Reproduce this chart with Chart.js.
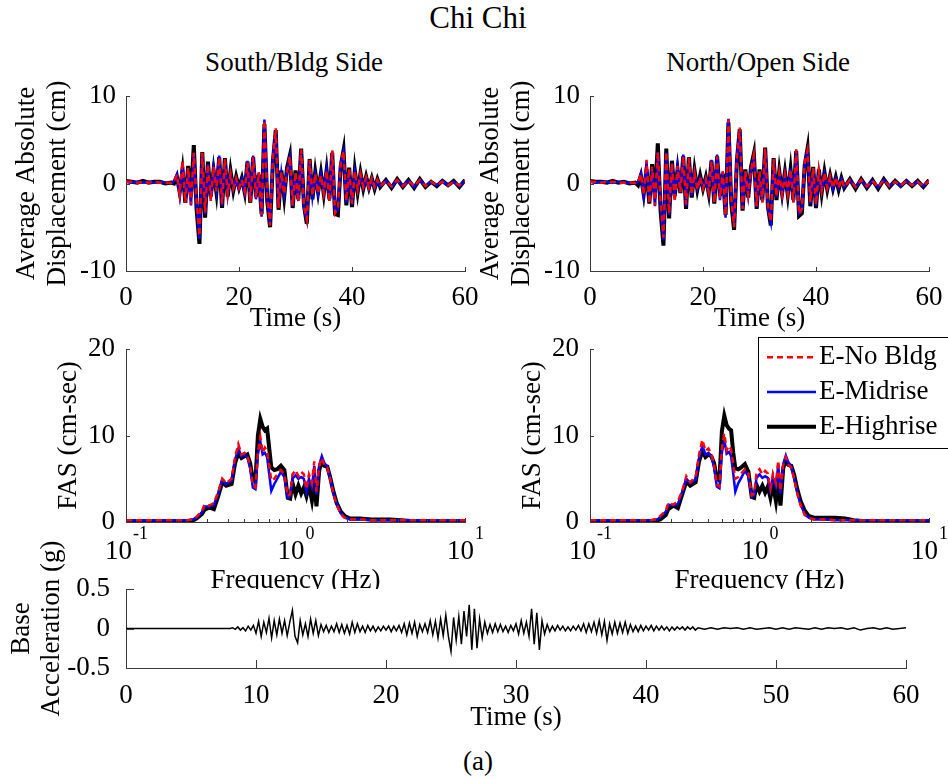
<!DOCTYPE html>
<html>
<head>
<meta charset="utf-8">
<title>Chi Chi</title>
<script src="https://cdn.jsdelivr.net/npm/chart.js@4.4.1/dist/chart.umd.min.js"></script>
<style>
  body { margin: 0; background: #fff; }
  #page { position: relative; width: 948px; height: 780px; overflow: hidden; background: #fff;
          font-family: 'Liberation Serif', 'Times New Roman', serif; color: #000; }
  #page canvas { position: absolute; }
  .lbl { position: absolute; transform: translate(-50%, -50%); white-space: nowrap; line-height: 1; font-size: 27px; }
</style>
</head>
<body>
<div id="page">
  <div class="lbl" style="left:478px; top:17px; font-size:31px;">Chi Chi</div>
  <div class="lbl" style="left:294px; top:62px;">South/Bldg Side</div>
  <div class="lbl" style="left:758px; top:62px;">North/Open Side</div>

  <canvas id="dispSouth" width="490" height="270" style="left:0; top:70px;"></canvas>
  <canvas id="dispNorth" width="474" height="270" style="left:474px; top:70px;"></canvas>
  <canvas id="fasSouth" width="490" height="274" style="left:0; top:326px;"></canvas>
  <canvas id="fasNorth" width="474" height="274" style="left:474px; top:326px;"></canvas>
  <canvas id="baseAccel" width="948" height="210" style="left:0; top:530px; z-index:2;"></canvas>

  <div class="lbl" style="left:478px; top:761px;">(a)</div>
</div>

<script>
// ---- data ----

// displacement time histories (s, cm)
const dispTime = [0, 1, 2, 3, 4, 5, 6, 7,
  8, 8.5, 9, 9.5, 10, 10.5, 11, 11.5, 12, 12.5,
  13, 13.5, 14, 14.5, 15, 15.5, 16, 16.5, 17, 17.5,
  18, 18.5, 19, 19.5, 20, 20.5, 21, 21.5, 22, 22.5,
  23, 23.5, 24, 24.5, 25, 25.5, 26, 26.5, 27, 27.5,
  28, 28.5, 29, 29.5, 30, 30.5, 31, 31.5, 32, 32.5,
  33, 33.5, 34, 34.5, 35, 35.5, 36, 36.5, 37, 37.5,
  38, 38.5, 39, 39.5, 40, 40.5, 41, 41.5, 42, 42.5,
  43, 43.5, 44, 44.5, 45,
  46, 47, 48, 49, 50, 51, 52, 53, 54, 55, 56, 57, 58, 59, 60];

const southNoBldg = [0.2, 0.2, 0.1, 0.2, 0.1, 0.2, 0.1, 0.1,
  0.1, 0.2, 1.0, -1.2, 2.6, -2.2, 1.8, -2.4, 3.5, -2.0,
  -6.0, 3.5, -3.3, 2.2, -2.0, 1.9, -0.9, 3.0, -2.3, 2.8,
  -1.2, 1.1, -0.6, 0.6, -0.5, 0.4, -0.9, 2.4, -2.1, 3.0,
  -1.6, 1.3, -3.6, 7.2, -1.6, -4.8, 2.8, 6.3, -2.8, 1.3,
  -1.2, 1.4, 3.1, -2.5, 1.3, -2.1, 3.9, -2.6, -4.1, 2.7,
  -1.4, 1.1, -1.1, 0.9, -1.1, 1.5, -2.1, 3.8, -3.4, -2.8,
  2.3, 3.7, -2.0, 1.7, -2.3, 1.4, -0.7, 1.1, -0.4, 0.7,
  -0.5, 0.6, -0.4, 0.4, -0.3,
  0.3, -0.3, 0.4, -0.3, 0.3, -0.3, 0.4, -0.3, 0.2, -0.2, 0.2, -0.2, 0.2, -0.2, 0.3];
const southMidrise = [0.2, 0.1, 0.2, 0.1, 0.2, 0.1, 0.2, 0.1,
  0.0, 0.3, 1.0, -1.3, 2.4, -2.0, 1.5, -2.5, 3.5, -2.5,
  -6.3, 3.4, -3.5, 2.2, -1.8, 1.8, -0.8, 3.2, -2.5, 2.7,
  -1.3, 1.2, -0.7, 0.5, -0.6, 0.5, -1.0, 2.6, -2.0, 3.2,
  -1.8, 1.2, -3.8, 7.3, -1.5, -4.6, 3.0, 6.0, -2.6, 1.2,
  -1.3, 1.5, 3.0, -2.6, 1.2, -2.0, 3.8, -2.8, -4.2, 2.5,
  -1.5, 1.0, -1.2, 1.0, -1.0, 1.6, -2.0, 3.7, -3.3, -3.0,
  2.2, 3.6, -2.2, 1.6, -2.4, 1.3, -0.8, 1.0, -0.5, 0.6,
  -0.6, 0.5, -0.5, 0.4, -0.3,
  0.3, -0.4, 0.4, -0.3, 0.3, -0.4, 0.4, -0.3, 0.2, -0.2, 0.3, -0.2, 0.2, -0.3, 0.3];
const southHighrise = [0.3, 0.2, 0.1, 0.3, 0.1, 0.2, 0.2, 0.0,
  0.1, 0.0, 0.8, -1.0, 1.5, -2.2, 2.0, -1.5, 4.4, -3.0,
  -6.9, 3.6, -3.9, 2.5, -1.5, 1.5, -1.0, 3.0, -2.8, 2.9,
  -1.5, 1.4, -0.8, 0.8, -0.5, 0.6, -1.0, 2.5, -2.2, 3.0,
  -1.5, 1.0, -3.5, 6.8, -2.0, -5.0, 2.5, 6.1, -3.0, 1.5,
  -1.5, 1.8, 3.2, -2.8, 1.5, -1.8, 4.0, -2.5, -4.6, 2.8,
  -1.8, 1.3, -1.0, 1.2, -1.2, 1.5, -1.8, 3.5, -3.5, -3.6,
  2.0, 3.8, -2.5, 1.8, -2.7, 1.5, -1.0, 1.2, -0.6, 0.8,
  -0.5, 0.6, -0.6, 0.5, -0.4,
  0.4, -0.5, 0.5, -0.4, 0.4, -0.5, 0.5, -0.4, 0.2, -0.3, 0.3, -0.2, 0.3, -0.4, 0.4];

const northNoBldg = [0.2, 0.2, 0.1, 0.2, 0.2, 0.1, 0.1, 0.1,
  0.1, 0.1, 1.1, -1.3, 2.7, -2.3, 1.9, -2.5, 3.6, -2.1,
  -6.2, 3.6, -3.4, 2.3, -2.1, 2.0, -1.0, 3.1, -2.4, 2.9,
  -1.3, 1.2, -0.7, 0.7, -0.6, 0.5, -1.0, 2.5, -2.2, 3.1,
  -1.7, 1.4, -3.7, 7.3, -1.7, -5.0, 2.9, 6.4, -2.9, 1.4,
  -1.3, 1.5, 3.2, -2.6, 1.4, -2.2, 4.0, -2.7, -4.3, 2.8,
  -1.5, 1.2, -1.2, 1.0, -1.2, 1.6, -2.2, 3.9, -3.5, -2.9,
  2.4, 3.8, -2.1, 1.8, -2.4, 1.5, -0.8, 1.2, -0.5, 0.8,
  -0.5, 0.7, -0.5, 0.5, -0.4,
  0.4, -0.4, 0.4, -0.3, 0.3, -0.4, 0.4, -0.3, 0.2, -0.2, 0.3, -0.2, 0.2, -0.3, 0.3];
const northMidrise = [0.2, 0.1, 0.2, 0.2, 0.1, 0.2, 0.1, 0.1,
  0.0, 0.2, 1.1, -1.4, 2.5, -2.1, 1.6, -2.6, 3.6, -2.6,
  -6.5, 3.5, -3.6, 2.3, -1.7, 1.9, -0.9, 3.3, -2.6, 2.8,
  -1.4, 1.3, -0.6, 0.6, -0.5, 0.6, -1.1, 2.7, -2.1, 3.3,
  -1.9, 1.3, -3.9, 7.4, -1.6, -4.8, 3.1, 6.1, -2.7, 1.3,
  -1.4, 1.6, 3.1, -2.7, 1.3, -2.1, 3.9, -2.9, -4.4, 2.6,
  -1.6, 1.1, -1.3, 1.1, -1.1, 1.7, -2.1, 3.8, -3.4, -3.1,
  2.3, 3.7, -2.3, 1.7, -2.5, 1.4, -0.9, 1.1, -0.6, 0.7,
  -0.6, 0.6, -0.5, 0.5, -0.4,
  0.4, -0.4, 0.4, -0.4, 0.3, -0.4, 0.4, -0.3, 0.2, -0.3, 0.3, -0.2, 0.2, -0.3, 0.3];
const northHighrise = [0.3, 0.2, 0.2, 0.1, 0.3, 0.1, 0.2, 0.0,
  0.1, -0.2, 0.9, -1.2, 1.6, -2.3, 2.2, -1.6, 4.6, -3.2,
  -7.1, 4.0, -4.0, 2.6, -1.4, 1.6, -1.1, 3.1, -2.9, 3.0,
  -1.6, 1.5, -0.7, 0.9, -0.6, 0.7, -1.1, 2.6, -2.3, 3.1,
  -1.4, 1.1, -3.6, 7.0, -2.2, -5.3, 2.6, 6.2, -3.1, 1.6,
  -1.6, 1.9, 3.4, -2.9, 1.6, -1.9, 4.1, -2.7, -4.8, 2.9,
  -1.9, 1.4, -1.1, 1.3, -1.3, 1.6, -1.9, 3.7, -3.7, -3.4,
  2.1, 4.0, -2.6, 1.9, -2.8, 1.6, -1.1, 1.3, -0.7, 0.9,
  -0.6, 0.7, -0.7, 0.6, -0.5,
  0.5, -0.6, 0.5, -0.5, 0.4, -0.6, 0.5, -0.4, 0.3, -0.3, 0.3, -0.3, 0.3, -0.4, 0.4];

// Fourier amplitude spectra (Hz, cm-sec)
const fasFreq = [0.1, 0.15, 0.2, 0.23, 0.25,
  0.26, 0.28, 0.29, 0.31, 0.33,
  0.35, 0.37, 0.39, 0.42, 0.44,
  0.46, 0.48, 0.5, 0.52, 0.54,
  0.56, 0.58, 0.6, 0.62, 0.64,
  0.66, 0.68, 0.7, 0.72, 0.75,
  0.78, 0.82, 0.86, 0.9, 0.93,
  0.96, 1.0, 1.04, 1.08, 1.12,
  1.16, 1.2, 1.25, 1.29, 1.33,
  1.38, 1.43, 1.48, 1.54, 1.6,
  1.67, 1.75, 1.85, 1.95, 2.1,
  2.4, 2.8, 3.2, 3.6, 4.2,
  5, 7, 10];

const fasSouthNoBldg = [0.2, 0.2, 0.2, 0.2, 0.3,
  0.6, 1.2, 2.0, 1.9, 2.2,
  3.5, 5.0, 4.5, 5.0, 7.5,
  9.0, 7.8, 8.0, 7.6, 6.5,
  4.2, 4.0, 8.0, 9.8, 8.0,
  8.6, 8.2, 6.5, 4.8, 5.0,
  5.5, 6.0, 5.5, 3.0, 3.2,
  5.5, 6.0, 5.3, 5.8, 5.5,
  3.8, 5.5, 4.5, 7.0, 3.5,
  6.5, 7.4, 6.5, 6.3, 5.0,
  3.3, 2.0, 0.9, 0.5, 0.3,
  0.3, 0.2, 0.2, 0.2, 0.2,
  0.2, 0.2, 0.2];
const fasSouthMidrise = [0.2, 0.2, 0.2, 0.2, 0.3,
  0.5, 1.1, 1.8, 1.8, 2.0,
  3.3, 4.9, 4.4, 4.8, 7.2,
  8.5, 7.6, 7.8, 7.5, 6.2,
  4.0, 3.8, 7.8, 9.3, 7.8,
  8.0, 7.5, 5.5, 3.6, 4.4,
  5.0, 5.8, 5.2, 2.8, 3.0,
  5.0, 5.4, 5.0, 5.2, 5.0,
  3.5, 5.0, 4.0, 6.5, 3.2,
  6.6, 7.6, 6.8, 6.4, 5.1,
  3.4, 2.1, 1.0, 0.5, 0.3,
  0.3, 0.2, 0.2, 0.2, 0.2,
  0.2, 0.2, 0.2];
const fasSouthHighrise = [0.1, 0.1, 0.1, 0.1, 0.2,
  0.4, 0.9, 1.4, 1.7, 1.5,
  3.0, 4.6, 4.2, 4.4, 6.8,
  8.0, 7.4, 7.6, 7.8, 6.8,
  5.0, 4.6, 10.0, 11.9, 11.0,
  10.6, 10.8, 8.5, 6.3, 6.0,
  6.1, 6.5, 6.0, 2.8, 2.7,
  4.5, 3.2, 4.2, 3.3, 4.0,
  3.0, 4.3, 2.5, 4.5, 1.8,
  6.0, 7.0, 6.5, 6.4, 5.2,
  3.6, 2.2, 1.2, 0.7, 0.4,
  0.4, 0.3, 0.3, 0.3, 0.2,
  0.1, 0.1, 0.1];

const fasNorthNoBldg = [0.2, 0.2, 0.2, 0.2, 0.4,
  0.7, 1.3, 2.2, 2.0, 2.4,
  3.6, 5.3, 4.6, 5.2, 7.8,
  9.5, 8.2, 8.5, 7.8, 6.6,
  4.3, 4.1, 8.5, 10.2, 8.3,
  8.8, 8.4, 6.6, 5.0, 5.2,
  5.6, 6.1, 5.6, 3.1, 3.3,
  5.7, 6.1, 5.5, 5.9, 5.6,
  3.9, 5.6, 4.5, 7.1, 3.6,
  6.6, 7.5, 6.6, 6.3, 5.0,
  3.3, 1.9, 0.8, 0.5, 0.3,
  0.3, 0.2, 0.2, 0.2, 0.2,
  0.2, 0.2, 0.2];
const fasNorthMidrise = [0.2, 0.2, 0.2, 0.2, 0.3,
  0.6, 1.2, 2.0, 1.9, 2.1,
  3.4, 5.0, 4.5, 4.9, 7.4,
  8.8, 7.8, 8.0, 7.6, 6.3,
  4.1, 3.9, 8.0, 9.5, 7.9,
  8.1, 7.6, 5.6, 3.5, 4.5,
  5.1, 5.9, 5.3, 2.9, 3.1,
  5.1, 5.5, 5.1, 5.3, 5.1,
  3.6, 5.1, 4.1, 6.6, 3.3,
  6.7, 7.7, 6.9, 6.4, 5.1,
  3.4, 2.0, 0.9, 0.5, 0.3,
  0.3, 0.2, 0.2, 0.2, 0.2,
  0.2, 0.2, 0.2];
const fasNorthHighrise = [0.1, 0.1, 0.1, 0.1, 0.2,
  0.3, 0.8, 1.5, 1.9, 1.6,
  3.2, 4.7, 4.2, 4.6, 7.0,
  8.2, 7.5, 7.8, 7.6, 6.8,
  5.0, 4.8, 10.5, 12.3, 11.2,
  10.8, 10.6, 8.0, 6.2, 6.1,
  6.3, 6.7, 5.8, 2.9, 2.8,
  4.3, 3.5, 4.2, 3.4, 4.1,
  2.8, 4.4, 2.4, 4.6, 1.9,
  6.2, 7.2, 6.6, 6.5, 5.5,
  3.8, 2.4, 1.3, 0.7, 0.5,
  0.5, 0.5, 0.4, 0.2, 0.1,
  0.1, 0.1, 0.1];

// base acceleration (s, g)
const accelTime = [0,
  8, 8.2, 8.4, 8.6, 8.8, 9, 9.2, 9.4, 9.6, 9.8,
  10, 10.2, 10.4, 10.6, 10.8, 11, 11.2, 11.4, 11.6, 11.8,
  12, 12.2, 12.4, 12.6, 12.8, 13, 13.2, 13.4, 13.6, 13.8,
  14, 14.2, 14.4, 14.6, 14.8, 15, 15.2, 15.4, 15.6, 15.8,
  16, 16.2, 16.4, 16.6, 16.8, 17, 17.2, 17.4, 17.6, 17.8,
  18, 18.2, 18.4, 18.6, 18.8, 19, 19.2, 19.4, 19.6, 19.8,
  20, 20.2, 20.4, 20.6, 20.8, 21, 21.2, 21.4, 21.6, 21.8,
  22, 22.2, 22.4, 22.6, 22.8, 23, 23.2, 23.4, 23.6, 23.8,
  24, 24.2, 24.4, 24.6, 24.8, 25, 25.2, 25.4, 25.6, 25.8,
  26, 26.2, 26.4, 26.6, 26.8, 27, 27.2, 27.4, 27.6, 27.8,
  28, 28.2, 28.4, 28.6, 28.8, 29, 29.2, 29.4, 29.6, 29.8,
  30, 30.2, 30.4, 30.6, 30.8, 31, 31.2, 31.4, 31.6, 31.8,
  32, 32.2, 32.4, 32.6, 32.8, 33, 33.2, 33.4, 33.6, 33.8,
  34, 34.2, 34.4, 34.6, 34.8, 35, 35.2, 35.4, 35.6, 35.8,
  36, 36.2, 36.4, 36.6, 36.8, 37, 37.2, 37.4, 37.6, 37.8,
  38, 38.2, 38.4, 38.6, 38.8, 39, 39.2, 39.4, 39.6, 39.8,
  40, 40.2, 40.4, 40.6, 40.8, 41, 41.2, 41.4, 41.6, 41.8,
  42, 42.2, 42.4, 42.6, 42.8, 43, 43.2, 43.4, 43.6, 43.8,
  44,
  44.5, 45, 45.5, 46, 46.5, 47, 47.5, 48, 48.5, 49, 49.5, 50, 50.5, 51, 51.5, 52,
  52.5, 53, 53.5, 54, 54.5, 55, 55.5, 56, 56.5, 57, 57.5, 58, 58.5, 59, 59.5, 60];
const accelValue = [0,
  0, 0.01, -0.01, 0.02, -0.02, 0.01, -0.03, 0.03, -0.02, 0.04,
  -0.06, 0.09, -0.1, 0.08, -0.05, 0.13, -0.12, 0.1, -0.08, 0.12,
  -0.06, 0.1, -0.09, 0.08, 0.23, -0.1, -0.18, 0.1, -0.08, 0.06,
  -0.1, 0.12, -0.06, 0.1, -0.09, 0.05, -0.04, 0.04, -0.05, 0.03,
  -0.04, 0.06, -0.05, 0.05, -0.06, 0.04, -0.07, 0.08, -0.05, 0.06,
  -0.04, 0.03, -0.05, 0.04, -0.03, 0.03, -0.04, 0.02, -0.03, 0.03,
  -0.02, 0.03, -0.04, 0.03, -0.03, 0.04, -0.05, 0.06, -0.08, 0.07,
  -0.06, 0.08, -0.1, 0.05, -0.04, 0.06, -0.05, 0.1, -0.08, 0.09,
  -0.12, 0.12, -0.09, 0.17, -0.1, -0.29, 0.14, -0.15, 0.15, -0.2,
  0.22, -0.1, 0.3, -0.27, 0.25, -0.25, 0.12, -0.12, 0.08, -0.06,
  0.05, -0.05, 0.06, -0.04, 0.05, -0.04, 0.03, -0.05, 0.04, -0.03,
  0.06, -0.07, 0.1, -0.06, 0.08, -0.1, 0.25, -0.2, 0.2, -0.27,
  0.1, -0.07, 0.05, -0.04, 0.03, -0.03, 0.04, -0.02, 0.03, -0.03,
  0.02, -0.03, 0.03, -0.02, 0.04, -0.03, 0.06, -0.05, 0.06, -0.04,
  0.08, -0.06, 0.1, -0.08, 0.09, -0.15, 0.06, -0.07, 0.08, -0.06,
  0.07, -0.05, 0.08, -0.06, 0.05, -0.04, 0.03, -0.04, 0.04, -0.03,
  0.03, -0.02, 0.04, -0.03, 0.03, -0.02, 0.03, -0.02, 0.02, -0.03,
  0.02, -0.02, 0.02, -0.01, 0.02, -0.02, 0.02, -0.01, 0.02, -0.02,
  0.01,
  -0.01, 0.01, -0.01, 0.01, 0, 0.01, -0.01, 0.01, -0.01, 0, 0.01, -0.01, 0.01, -0.01, 0.01, 0,
  -0.01, 0.01, -0.01, 0.01, 0, 0.01, -0.01, 0.01, -0.02, 0, 0.01, -0.01, 0.01, -0.01, 0, 0.01];

// tick positions and labels
const timeTicksTop = [0, 20, 40, 60];
const timeTicksBottom = [0, 10, 20, 30, 40, 50, 60];
const dispTicks = [-10, 0, 10];
const fasTicks = [0, 10, 20];
const accelTicks = [-0.5, 0, 0.5];
const freqDecades = [0.1, 1, 10];
const freqExponents = ['-1', '0', '1'];
const freqMinor = [0.2, 0.3, 0.4, 0.5, 0.6, 0.7, 0.8, 0.9, 2, 3, 4, 5, 6, 7, 8, 9];

const seriesNames = ['E-No Bldg', 'E-Midrise', 'E-Highrise'];

// ---- styling ----
const SERIF = "'Liberation Serif', 'Times New Roman', serif";
const AXIS = '#3a3a3a';
Chart.defaults.font.family = SERIF;
Chart.defaults.font.size = 27;
Chart.defaults.color = '#000';
Chart.defaults.animation = false;
Chart.defaults.plugins.legend.display = false;
Chart.defaults.plugins.tooltip.enabled = false;

// MATLAB style inward ticks
const inwardTicks = {
  id: 'inwardTicks',
  afterDatasetsDraw(chart, args, opts) {
    const { ctx, chartArea: a, scales } = chart;
    ctx.save();
    ctx.strokeStyle = AXIS;
    ctx.lineWidth = 1;
    ctx.beginPath();
    (opts.x || []).forEach(v => {
      const px = Math.round(scales.x.getPixelForValue(v)) + 0.5;
      ctx.moveTo(px, a.bottom); ctx.lineTo(px, a.bottom - opts.len);
    });
    (opts.xMinor || []).forEach(v => {
      const px = Math.round(scales.x.getPixelForValue(v)) + 0.5;
      ctx.moveTo(px, a.bottom); ctx.lineTo(px, a.bottom - opts.minorLen);
    });
    (opts.y || []).forEach(v => {
      const py = Math.round(scales.y.getPixelForValue(v)) + 0.5;
      ctx.moveTo(a.left, py); ctx.lineTo(a.left + opts.len, py);
    });
    ctx.stroke();
    ctx.restore();
  }
};

// axis titles (drawn by hand so long y titles are not squeezed to the axis height)
const axisTitles = {
  id: 'axisTitles',
  afterDraw(chart, args, opts) {
    if (!opts.x && !opts.y) return;
    const { ctx, chartArea: a } = chart;
    ctx.save();
    ctx.fillStyle = '#000';
    ctx.font = '27px ' + SERIF;
    ctx.textAlign = 'center';
    ctx.textBaseline = 'middle';
    if (opts.x) ctx.fillText(opts.x, (a.left + a.right) / 2, a.bottom + opts.xGap);
    if (opts.y) {
      ctx.translate(a.left - opts.yGap, (a.top + a.bottom) / 2);
      ctx.rotate(-Math.PI / 2);
      opts.y.forEach((line, i) => ctx.fillText(line, 0, i * opts.lineGap));
    }
    ctx.restore();
  }
};

// 10^n labels for the log frequency axis
const decadeLabels = {
  id: 'decadeLabels',
  afterDraw(chart, args, opts) {
    if (!opts.values) return;
    const { ctx, chartArea: a, scales } = chart;
    const big = '27px ' + SERIF, small = '18px ' + SERIF;
    ctx.save();
    ctx.fillStyle = '#000';
    ctx.textAlign = 'left';
    ctx.textBaseline = 'middle';
    opts.values.forEach((v, i) => {
      const exp = opts.exponents[i];
      ctx.font = big;
      const bw = ctx.measureText('10').width;
      ctx.font = small;
      const ew = ctx.measureText(exp).width;
      const left = scales.x.getPixelForValue(v) - (bw + ew) / 2;
      ctx.font = big;
      ctx.fillText('10', left, a.bottom + opts.baseGap);
      ctx.font = small;
      ctx.fillText(exp, left + bw + 1, a.bottom + opts.expGap);
    });
    ctx.restore();
  }
};

// white plot background (the bottom axes hide what lies beneath)
const plotBackground = {
  id: 'plotBackground',
  beforeDraw(chart, args, opts) {
    if (!opts.color) return;
    const { ctx, chartArea: a } = chart;
    ctx.save();
    ctx.fillStyle = opts.color;
    ctx.fillRect(a.left, a.top, a.right - a.left, a.bottom - a.top);
    ctx.restore();
  }
};

// boxed legend in the upper right
const boxLegend = {
  id: 'boxLegend',
  afterDraw(chart, args, opts) {
    if (!opts.show) return;
    const ctx = chart.ctx;
    ctx.save();
    ctx.fillStyle = '#fff';
    ctx.fillRect(opts.x, opts.y, opts.w, opts.h);
    ctx.strokeStyle = '#000';
    ctx.lineWidth = 1;
    ctx.strokeRect(opts.x + 0.5, opts.y + 0.5, opts.w, opts.h);
    ctx.font = '27px ' + SERIF;
    ctx.textBaseline = 'middle';
    ctx.textAlign = 'left';
    chart.data.datasets.forEach((ds, i) => {
      const yy = opts.y + opts.rowTop + i * opts.rowGap;
      ctx.strokeStyle = ds.borderColor;
      ctx.lineWidth = ds.borderWidth;
      ctx.setLineDash(ds.borderDash || []);
      ctx.beginPath();
      ctx.moveTo(opts.x + 9, yy);
      ctx.lineTo(opts.x + 58, yy);
      ctx.stroke();
      ctx.setLineDash([]);
      ctx.fillStyle = '#000';
      ctx.fillText(ds.label, opts.x + 61, yy);
    });
    ctx.restore();
  }
};

Chart.register(inwardTicks, axisTitles, decadeLabels, plotBackground, boxLegend);

function series(label, xs, ys, color, width, dash) {
  return {
    label: label,
    data: xs.map((x, i) => ({ x: x, y: ys[i] })),
    borderColor: color,
    borderWidth: width,
    borderDash: dash || [],
    pointRadius: 0,
    tension: 0,
    fill: false
  };
}

function threeSeries(xs, noBldg, midrise, highrise) {
  return [
    series(seriesNames[0], xs, noBldg, '#ff0000', 2.5, [6, 4]),
    series(seriesNames[1], xs, midrise, '#0000ff', 2.5),
    series(seriesNames[2], xs, highrise, '#000000', 4)
  ];
}

function xAxis(extra, height) {
  return Object.assign({
    type: 'linear',
    grid: { display: false },
    border: { color: AXIS, width: 1 },
    afterFit: s => { s.height = height; }
  }, extra);
}

function yAxis(min, max, step, width, pad) {
  return {
    type: 'linear',
    min: min,
    max: max,
    grid: { display: false },
    border: { color: AXIS, width: 1 },
    ticks: { stepSize: step, padding: pad, font: { lineHeight: 1.15 } },
    afterFit: s => { s.width = width; }
  };
}

function makeChart(id, datasets, scales, padding, plugins) {
  return new Chart(document.getElementById(id), {
    type: 'line',
    data: { datasets: datasets },
    options: {
      responsive: false,
      devicePixelRatio: 1,
      layout: { padding: padding },
      scales: scales,
      plugins: plugins
    }
  });
}

// displacement, south and north
const dispTitles = { x: 'Time (s)', xGap: 48, y: ['Average Absolute', 'Displacement (cm)'], yGap: 99, lineGap: 31.3 };
const dispTickMarks = { x: timeTicksTop, y: dispTicks, len: 4 };
const dispTimeTicks = { stepSize: 20, padding: 3.5, maxRotation: 0, autoSkip: false, font: { lineHeight: 1.15 } };

makeChart('dispSouth', threeSeries(dispTime, southNoBldg, southMidrise, southHighrise), {
  x: xAxis({ min: 0, max: 60, ticks: dispTimeTicks }, 69),
  y: yAxis(-10, 10, 10, 126, 2)
}, { top: 26, right: 25, left: 0, bottom: 0 }, { axisTitles: dispTitles, inwardTicks: dispTickMarks });

makeChart('dispNorth', threeSeries(dispTime, northNoBldg, northMidrise, northHighrise), {
  x: xAxis({ min: 0, max: 60, ticks: dispTimeTicks }, 69),
  y: yAxis(-10, 10, 10, 116, 2)
}, { top: 26, right: 19, left: 0, bottom: 0 }, { axisTitles: dispTitles, inwardTicks: dispTickMarks });

// Fourier amplitude spectra
const fasTitles = { x: 'Frequency (Hz)', xGap: 59, y: ['FAS (cm-sec)'], yGap: 57, lineGap: 31 };
const fasTickMarks = { x: freqDecades, xMinor: freqMinor, y: fasTicks, len: 4, minorLen: 3 };
const fasLabels = { values: freqDecades, exponents: freqExponents, baseGap: 29.5, expGap: 12 };

function logAxis() {
  return {
    type: 'logarithmic',
    min: 0.1,
    max: 10,
    grid: { display: false },
    border: { color: AXIS, width: 1 },
    ticks: { display: false },
    afterFit: s => { s.height = 78; }
  };
}

makeChart('fasSouth', threeSeries(fasFreq, fasSouthNoBldg, fasSouthMidrise, fasSouthHighrise), {
  x: logAxis(),
  y: yAxis(0, 20, 10, 126, 3)
}, { top: 23, right: 25, left: 0, bottom: 0 }, { axisTitles: fasTitles, inwardTicks: fasTickMarks, decadeLabels: fasLabels });

makeChart('fasNorth', threeSeries(fasFreq, fasNorthNoBldg, fasNorthMidrise, fasNorthHighrise), {
  x: logAxis(),
  y: yAxis(0, 20, 10, 116, 3)
}, { top: 23, right: 19, left: 0, bottom: 0 }, {
  axisTitles: fasTitles, inwardTicks: fasTickMarks, decadeLabels: fasLabels,
  boxLegend: { show: true, x: 284, y: 11, w: 200, h: 111, rowTop: 20.3, rowGap: 34.7 }
});

// base acceleration
makeChart('baseAccel', [series('Base acceleration', accelTime, accelValue, '#000000', 1.5)], {
  x: xAxis({ min: 0, max: 60, ticks: { stepSize: 10, padding: 4.5, maxRotation: 0, autoSkip: false, font: { lineHeight: 1.15 } } }, 72),
  y: yAxis(-0.5, 0.5, 0.5, 126, 8)
}, { top: 59, right: 42, left: 0, bottom: 0 }, {
  axisTitles: { x: 'Time (s)', xGap: 50, y: ['Base', 'Acceleration (g)'], yGap: 104, lineGap: 30 },
  inwardTicks: { x: timeTicksBottom, y: accelTicks, len: 8 },
  plotBackground: { color: '#ffffff' }
});
</script>
</body>
</html>
